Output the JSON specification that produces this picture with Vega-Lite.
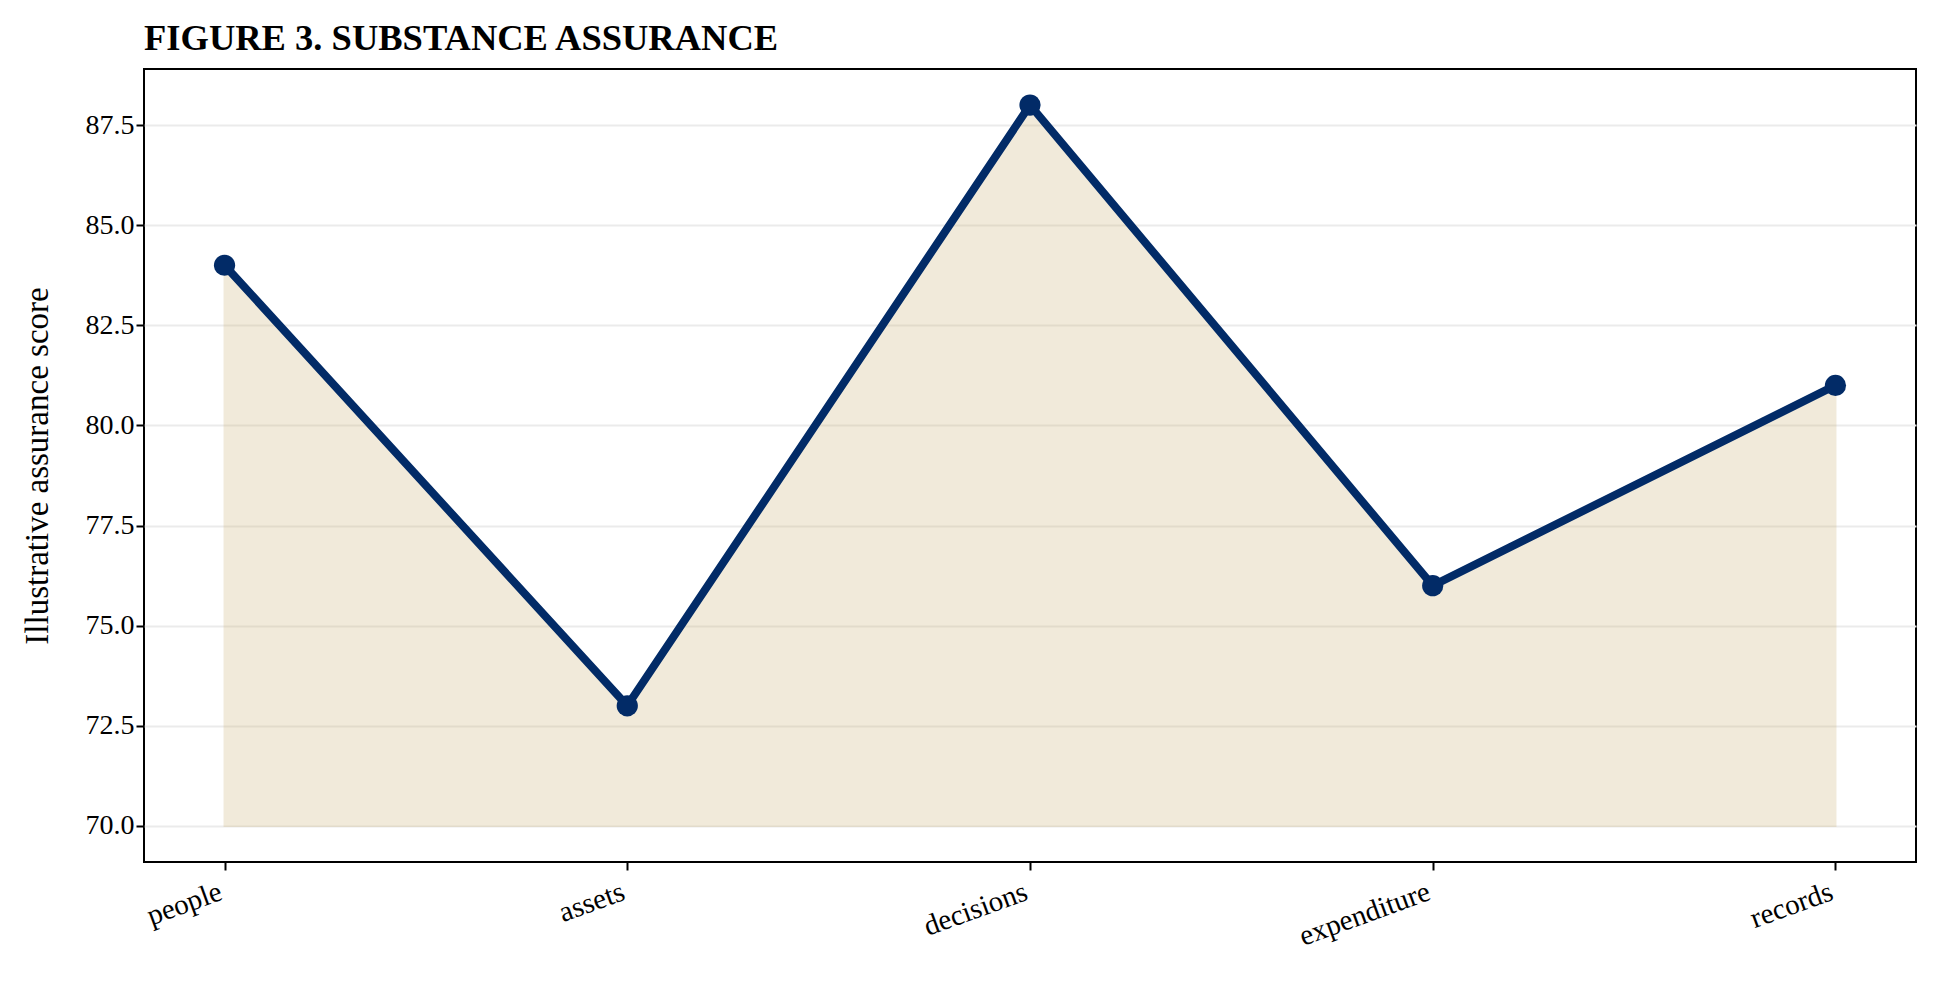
{
  "$schema": "https://vega.github.io/schema/vega-lite/v6.json",
  "description": "Figure 3. Substance assurance",
  "width": 1772,
  "height": 793,
  "autosize": "none",
  "padding": {"left": 144, "top": 69, "right": 24, "bottom": 121},
  "background": "white",
  "config": {
    "font": "Liberation Serif",
    "view": {"stroke": "black", "strokeWidth": 2},
    "axis": {
      "labelFont": "Liberation Serif",
      "titleFont": "Liberation Serif",
      "labelColor": "black",
      "titleColor": "black",
      "tickColor": "black",
      "tickWidth": 2,
      "tickSize": 8,
      "domain": false
    }
  },
  "title": {
    "text": "FIGURE 3. SUBSTANCE ASSURANCE",
    "anchor": "start",
    "frame": "group",
    "font": "Liberation Serif",
    "fontSize": 36.5,
    "fontWeight": "bold",
    "color": "black",
    "offset": 12
  },
  "data": {
    "values": [
      {"area": "people", "score": 84},
      {"area": "assets", "score": 73},
      {"area": "decisions", "score": 88},
      {"area": "expenditure", "score": 76},
      {"area": "records", "score": 81}
    ]
  },
  "encoding": {
    "x": {
      "field": "area",
      "type": "nominal",
      "sort": null,
      "scale": {"type": "point", "padding": 0.2},
      "axis": {
        "title": null,
        "labelAngle": 340,
        "labelAlign": "right",
        "labelBaseline": "top",
        "labelFontSize": 29,
        "labelPadding": 7,
        "labelOffset": -9,
        "grid": false
      }
    },
    "y": {
      "field": "score",
      "type": "quantitative",
      "scale": {"domain": [69.1, 88.9], "nice": false, "zero": false},
      "axis": {
        "title": "Illustrative assurance score",
        "titleFontSize": 33,
        "titleFontWeight": "normal",
        "labelFontSize": 28,
        "labelPadding": 2,
        "format": ".1f",
        "values": [70, 72.5, 75, 77.5, 80, 82.5, 85, 87.5],
        "grid": true,
        "gridColor": "#ebebeb",
        "gridWidth": 2,
        "titlePadding": 31
      }
    }
  },
  "layer": [
    {
      "mark": {
        "type": "area",
        "color": "#cbaf6f",
        "opacity": 0.25,
        "stroke": "#cbaf6f",
        "strokeWidth": 2
      },
      "encoding": {
        "y2": {"datum": 70}
      }
    },
    {
      "mark": {
        "type": "line",
        "color": "#022b67",
        "strokeWidth": 8,
        "strokeJoin": "round",
        "strokeCap": "round"
      }
    },
    {
      "mark": {
        "type": "point",
        "filled": true,
        "color": "#022b67",
        "opacity": 1,
        "size": 450
      }
    }
  ]
}
